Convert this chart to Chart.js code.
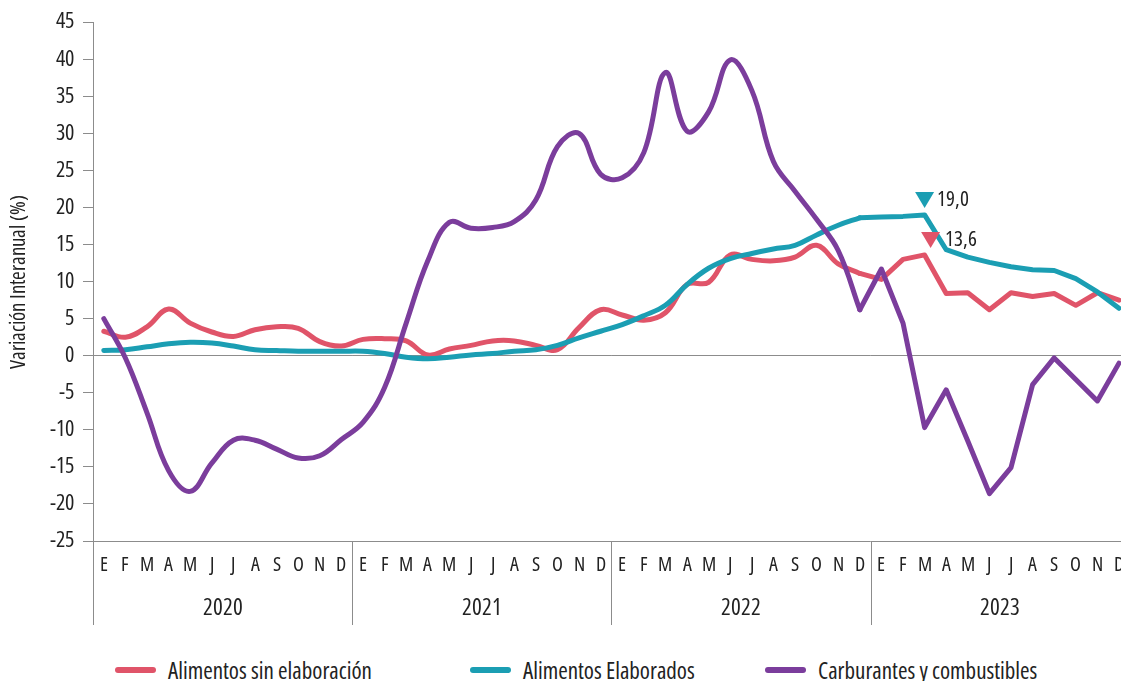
<!DOCTYPE html>
<html lang="es">
<head>
<meta charset="utf-8">
<title>Variación interanual: alimentos y carburantes</title>
<script src="https://cdn.jsdelivr.net/npm/chart.js@4"></script>
<style>
  @font-face {
    font-family: 'Estrecha';
    src: local('Open Sans Condensed'), local('OpenSans-CondensedRegular'), local('OpenSansCondensed-Regular'),
         local('Open Sans Regular'), local('OpenSans-Regular'), local('Open Sans');
    font-stretch: 75%;
    font-weight: 400;
  }
  html, body { margin: 0; padding: 0; background: #fff; overflow: hidden; }
  .wrap { position: relative; width: 1121px; height: 681px; overflow: hidden; }
  #grafico { position: absolute; left: 0; top: 0; }
  .leyenda { position: absolute; left: 0; top: 654px; width: 1121px; height: 31px;
    font-family: 'Open Sans', sans-serif; font-size: 23px; font-stretch: condensed; color: #222; }
  .leyenda .item { position: absolute; top: 0; display: flex; align-items: center; white-space: nowrap; height: 31px; }
  .leyenda i { display: inline-block; width: 41px; height: 6px; border-radius: 3px; margin-right: 12px; }
</style>
</head>
<body>
<div class="wrap">
  <canvas id="grafico" width="1136" height="628"></canvas>
  <div class="leyenda" id="leyenda"></div>
</div>
<script>
const FUENTE = "'Estrecha', 'Open Sans', sans-serif";
const TEXTO = "#222222";
const EJE = "#8c8c8c";

const meses = ["E", "F", "M", "A", "M", "J", "J", "A", "S", "O", "N", "D"];
const anios = ["2020", "2021", "2022", "2023"];

// Tasas de variación interanual (%), enero 2020 - diciembre 2023
const sinElaborar = [
  3.3, 2.5, 3.9, 6.3, 4.4, 3.2, 2.6, 3.5, 3.9, 3.7, 1.9, 1.3,
  2.2, 2.3, 2.0, 0.1, 0.9, 1.4, 2.0, 2.0, 1.4, 0.8, 3.8, 6.2,
  5.5, 4.8, 5.8, 9.6, 9.9, 13.6, 13.0, 12.8, 13.3, 14.9, 12.4, 11.1,
  10.3, 13.0, 13.6, 8.4, 8.5, 6.2, 8.5, 8.0, 8.4, 6.8, 8.5, 7.5
];
const elaborados = [
  0.7, 0.8, 1.2, 1.6, 1.8, 1.7, 1.3, 0.8, 0.7, 0.6, 0.6, 0.6,
  0.6, 0.3, -0.2, -0.4, -0.2, 0.1, 0.3, 0.6, 0.8, 1.4, 2.4, 3.3,
  4.2, 5.4, 6.8, 9.6, 11.8, 13.1, 13.8, 14.4, 14.9, 16.3, 17.6, 18.6,
  18.7, 18.8, 19.0, 14.3, 13.3, 12.6, 12.0, 11.6, 11.5, 10.4, 8.6, 6.4
];
const carburantes = [
  5.0, -0.3, -7.7, -15.5, -18.3, -14.5, -11.4, -11.4, -12.6, -13.8, -13.5, -11.3,
  -9.0, -4.3, 4.4, 12.8, 18.0, 17.2, 17.3, 18.1, 21.0, 28.2, 30.0, 24.5,
  24.0, 27.4, 38.2, 30.3, 32.9, 39.9, 35.8, 26.2, 22.2, 18.4, 14.2, 6.2,
  11.7, 4.4, -9.7, -4.6, -11.5, -18.6, -15.1, -3.9, -0.3, -3.2, -6.1, -1.0
];

// Hasta diciembre de 2022 la serie va suavizada; 2023 con tramos rectos
const CORTE = 35;
// Máximos señalados en marzo de 2023
const MARCA = 38;

const series = [
  { nombre: "Alimentos sin elaboración", datos: sinElaborar, color: "#e05469", orden: 3 },
  { nombre: "Alimentos Elaborados", datos: elaborados, color: "#1b9eb3", orden: 2 },
  { nombre: "Carburantes y combustibles", datos: carburantes, color: "#7b3d9c", orden: 1 }
];

const etiquetas = anios.flatMap(() => meses);

function tramo(datos, desde, hasta) {
  return datos.map((v, i) => (i >= desde && i <= hasta ? v : null));
}

const datasets = [];
series.forEach((s, n) => {
  const base = {
    label: s.nombre,
    borderColor: s.color,
    backgroundColor: s.color,
    borderWidth: 5,
    borderCapStyle: "round",
    borderJoinStyle: "round",
    pointRadius: 0,
    pointHoverRadius: 0,
    spanGaps: false,
    order: s.orden
  };
  datasets.push(Object.assign({}, base, { data: tramo(s.datos, 0, CORTE), tension: 0.4 }));
  datasets.push(Object.assign({}, base, { data: tramo(s.datos, CORTE, s.datos.length - 1), tension: 0, serie: n }));
});

// letra estrecha en el canvas
const estrecha = {
  id: "estrecha",
  beforeUpdate(chart) { chart.ctx.fontStretch = "condensed"; },
  beforeDraw(chart) { chart.ctx.fontStretch = "condensed"; }
};

// líneas verticales que separan los años bajo el eje
const separadores = {
  id: "separadores",
  afterDraw(chart) {
    const { ctx, chartArea, scales } = chart;
    const x = scales.x;
    ctx.save();
    ctx.strokeStyle = EJE;
    ctx.lineWidth = 1;
    for (let i = 0; i <= etiquetas.length; i += meses.length) {
      const px = Math.round(x.getPixelForValue(i - 0.5)) + 0.5;
      ctx.beginPath();
      ctx.moveTo(px, chartArea.bottom);
      ctx.lineTo(px, scales.x2.bottom);
      ctx.stroke();
    }
    ctx.restore();
  }
};

// triángulos con el valor de marzo de 2023
const marcas = {
  id: "marcas",
  afterDatasetsDraw(chart) {
    const { ctx } = chart;
    const notas = [
      { serie: 1, dx: 0, dt: 12 },
      { serie: 0, dx: 6, dt: 20 }
    ];
    ctx.save();
    ctx.fontStretch = "condensed";
    ctx.font = "21px " + FUENTE;
    ctx.textBaseline = "middle";
    ctx.textAlign = "left";
    notas.forEach(nota => {
      const idx = chart.data.datasets.findIndex(d => d.serie === nota.serie);
      const p = chart.getDatasetMeta(idx).data[MARCA];
      const s = series[nota.serie];
      const cx = p.x + nota.dx;
      const punta = p.y - 7;
      ctx.fillStyle = s.color;
      ctx.beginPath();
      ctx.moveTo(cx - 9.5, punta - 16);
      ctx.lineTo(cx + 9.5, punta - 16);
      ctx.lineTo(cx, punta);
      ctx.closePath();
      ctx.fill();
      ctx.fillStyle = TEXTO;
      ctx.fillText(s.datos[MARCA].toFixed(1).replace(".", ","), p.x + nota.dt, punta - 8);
    });
    ctx.restore();
  }
};

function dibujar() {
  Chart.defaults.font.style = "";
  new Chart(document.getElementById("grafico"), {
    type: "line",
    data: { labels: etiquetas, datasets: datasets },
    options: {
      responsive: false,
      animation: false,
      events: [],
      layout: { padding: { top: 5, right: 0, bottom: 3, left: 0 } },
      plugins: {
        legend: { display: false },
        tooltip: { enabled: false }
      },
      scales: {
        x: {
          type: "category",
          offset: true,
          position: "bottom",
          grid: { display: false, drawTicks: false },
          border: { display: true, color: EJE, width: 1 },
          ticks: {
            autoSkip: false,
            maxRotation: 0,
            padding: 12,
            color: TEXTO,
            font: { family: FUENTE, size: 20, style: "" }
          },
          afterFit(scale) { scale.height = 45; }
        },
        x2: {
          type: "category",
          labels: anios,
          offset: true,
          position: "bottom",
          grid: { display: false, drawTicks: false },
          border: { display: false },
          ticks: {
            maxRotation: 0,
            padding: 9,
            color: TEXTO,
            font: { family: FUENTE, size: 23, style: "" }
          },
          afterFit(scale) { scale.height = 39; }
        },
        y: {
          min: -25,
          max: 45,
          ticks: {
            stepSize: 5,
            padding: 9,
            color: TEXTO,
            font: { family: FUENTE, size: 22, style: "" }
          },
          grid: {
            drawOnChartArea: true,
            color: c => (c.tick && c.tick.value === 0 ? EJE : "rgba(0,0,0,0)"),
            tickColor: EJE,
            tickLength: 10,
            lineWidth: 1
          },
          border: { display: true, color: EJE, width: 1 },
          title: {
            display: true,
            text: "Variación Interanual (%)",
            color: TEXTO,
            font: { family: FUENTE, size: 20.5, style: "" },
            padding: { top: 7, bottom: 0 }
          },
          afterFit(scale) { scale.width = 93; }
        }
      }
    },
    plugins: [estrecha, separadores, marcas]
  });
}

// leyenda
const posiciones = [115, 470, 765];
const leyenda = document.getElementById("leyenda");
series.forEach((s, i) => {
  const item = document.createElement("span");
  item.className = "item";
  item.style.left = posiciones[i] + "px";
  const linea = document.createElement("i");
  linea.style.background = s.color;
  item.appendChild(linea);
  item.appendChild(document.createTextNode(s.nombre));
  leyenda.appendChild(item);
});

document.fonts.load("20px Estrecha").then(dibujar, dibujar);
</script>
</body>
</html>
